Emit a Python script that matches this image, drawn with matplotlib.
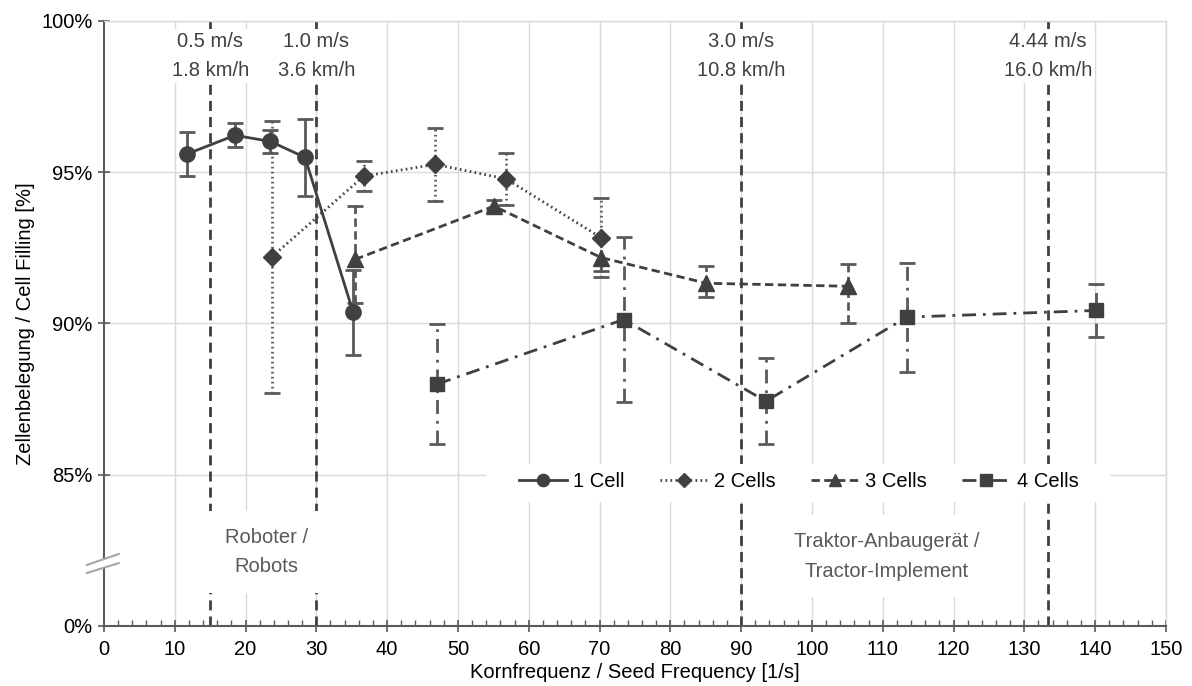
import numpy as np
import matplotlib
matplotlib.use("Agg")
from matplotlib import pyplot as plt
from matplotlib.patches import Rectangle, Polygon

plt.rcParams['font.family'] = ['Liberation Sans', 'DejaVu Sans']

# data (values in %, the 0% tick sits at the axis break)
x1 = [11.7, 18.5, 23.5, 28.4, 35.2]
y1 = [95.60, 96.22, 96.02, 95.49, 90.37]
e1 = [0.72, 0.40, 0.38, 1.28, 1.40]

x2 = [23.7, 36.7, 46.8, 56.8, 70.2]
y2 = [92.20, 94.87, 95.26, 94.78, 92.84]
e2 = [4.50, 0.50, 1.21, 0.86, 1.30]

x3 = [35.5, 55.1, 70.2, 85.1, 105.1]
y3 = [92.12, 93.88, 92.18, 91.33, 91.23]
e3_lo = [1.45, 0.15, 0.45, 0.47, 1.23]
e3_hi = [1.75, 0.20, 0.60, 0.58, 0.73]

x4 = [47.1, 73.4, 93.5, 113.4, 140.1]
y4 = [88.00, 90.13, 87.43, 90.21, 90.43]
e4 = [1.98, 2.72, 1.42, 1.80, 0.87]

labels = ["1 Cell", "2 Cells", "3 Cells", "4 Cells"]

speed_ms = ["0.5", "1.0", "3.0", "4.44"]
speed_kmh = [1.8, 3.6, 10.8, 16.0]
seeds_per_m = 30  # 1 m/s -> 30 seeds/s

yticks = [80, 85, 90, 95, 100]
ytick_labels = ["0%", "85%", "90%", "95%", "100%"]

dark = "#404040"
errc = "#595959"
gridc = "#d9d9d9"
fs = 14.5

fig = plt.figure(figsize=(11.92, 6.86), dpi=100)
ax = fig.add_axes([0.0872, 0.0875, 0.8909, 0.8819])

ax.set_xlim(0, 150)
ax.set_ylim(80, 100)
ax.set_xticks(np.arange(0, 151, 10))
ax.set_xticks(np.arange(0, 151, 2), minor=True)
ax.set_yticks(yticks)
ax.set_yticklabels(ytick_labels)

for v in np.arange(10, 151, 10):
    ax.axvline(v, color=gridc, lw=1, zorder=0)
for v in yticks[1:]:
    ax.axhline(v, color=gridc, lw=1, zorder=0)

for s in ["top", "right"]:
    ax.spines[s].set_color(gridc)
    ax.spines[s].set_linewidth(1)
for s in ["left", "bottom"]:
    ax.spines[s].set_color(errc)
    ax.spines[s].set_linewidth(1.5)

ax.tick_params(axis="x", which="major", direction="inout", length=8,
               width=1.2, color=errc, labelsize=fs, pad=6)
ax.tick_params(axis="x", which="minor", direction="in", length=4,
               width=1, color=errc)
ax.tick_params(axis="y", direction="inout", length=8, width=1.2,
               color=errc, labelsize=fs, pad=4)

ax.set_xlabel("Kornfrequenz / Seed Frequency [1/s]", fontsize=fs, labelpad=3)
ax.set_ylabel("Zellenbelegung / Cell Filling [%]", fontsize=fs, labelpad=5)

# speed limits
for ms, kmh in zip(speed_ms, speed_kmh):
    xv = kmh / 3.6 * seeds_per_m
    ax.axvline(xv, color=dark, lw=2, ls=(0, (3.6, 2.2)), zorder=2)
    ax.text(xv, 98.85, f"{ms} m/s\n{kmh:.1f} km/h", ha="center", va="center",
            fontsize=fs, color=dark, linespacing=1.7, zorder=3,
            bbox=dict(facecolor="white", edgecolor="none", pad=2))

ax.text(22.9, 82.45, "Roboter /\nRobots", ha="center", va="center",
        fontsize=fs, color=errc, linespacing=1.7, zorder=3,
        bbox=dict(facecolor="white", edgecolor="none", pad=12))
ax.text(110.6, 82.3, "Traktor-Anbaugerät /\nTractor-Implement", ha="center",
        va="center", fontsize=fs, color=errc, linespacing=1.7, zorder=3,
        bbox=dict(facecolor="white", edgecolor="none", pad=12))

# series
series = [
    (x1, y1, [e1, e1], "o", 11, "-"),
    (x2, y2, [e2, e2], "D", 9.5, (0, (0.6, 1.2))),
    (x3, y3, [e3_lo, e3_hi], "^", 11, (0, (3, 1.6))),
    (x4, y4, [e4, e4], "s", 10, (0, (5, 2.5, 1, 2.5))),
]
handles = []
for (xs, ys, err, mk, ms_, ls), lab in zip(series, labels):
    cont = ax.errorbar(xs, ys, yerr=err, fmt=mk, ls=ls, color=dark, lw=2,
                       markersize=ms_, ecolor=errc, elinewidth=2,
                       capsize=6, capthick=2, zorder=5)
    cont[2][0].set_linestyle(ls)
    cont[0].set_label(lab)
    handles.append(cont[0])

# legend backdrop
ax.add_patch(Rectangle((0.36, 0.205), 0.587, 0.062, transform=ax.transAxes,
                       facecolor="white", edgecolor="none", zorder=4))
ax.legend(handles=handles, labels=labels, loc="center",
          bbox_to_anchor=(0.654, 0.238), ncol=4, frameon=False, fontsize=fs,
          handlelength=2.4, handletextpad=0.3, columnspacing=1.75,
          markerscale=0.8)

# axis break marks
brk = Polygon([(-0.016, 0.101), (0.014, 0.119), (0.014, 0.104), (-0.016, 0.0876)],
              closed=True, transform=ax.transAxes, facecolor="white",
              edgecolor="none", clip_on=False, zorder=6)
ax.add_patch(brk)
ax.plot([-0.016, 0.014], [0.101, 0.119], transform=ax.transAxes,
        color="#a6a6a6", lw=1.5, clip_on=False, zorder=7)
ax.plot([-0.016, 0.014], [0.0876, 0.104], transform=ax.transAxes,
        color="#a6a6a6", lw=1.5, clip_on=False, zorder=7)

fig.savefig("out.png", dpi=100)
